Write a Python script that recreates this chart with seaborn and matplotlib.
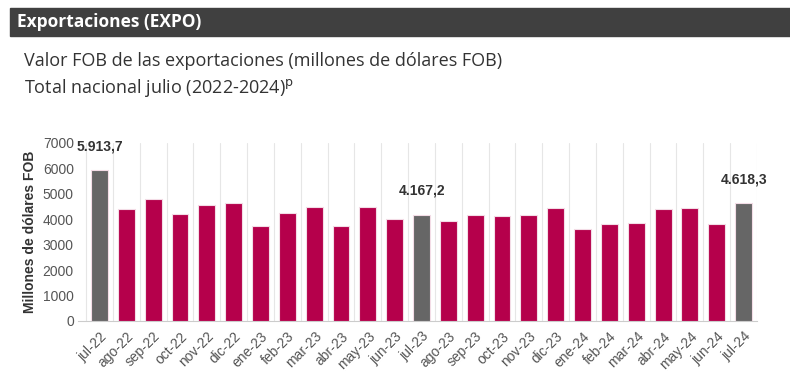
import numpy as np
import pandas as pd
import matplotlib
matplotlib.use("Agg")
import matplotlib.pyplot as plt
import seaborn as sns
from matplotlib.patches import Rectangle

months = ["jul-22", "ago-22", "sep-22", "oct-22", "nov-22", "dic-22", "ene-23",
          "feb-23", "mar-23", "abr-23", "may-23", "jun-23", "jul-23", "ago-23",
          "sep-23", "oct-23", "nov-23", "dic-23", "ene-24", "feb-24", "mar-24",
          "abr-24", "may-24", "jun-24", "jul-24"]
values = [5913.7, 4400, 4790, 4205, 4565, 4645, 3730, 4235, 4470, 3740, 4495,
          4020, 4167.2, 3940, 4155, 4140, 4180, 4445, 3610, 3795, 3860, 4405,
          4445, 3810, 4618.3]
highlight = ["jul-22", "jul-23", "jul-24"]
labels = {"jul-22": "5.913,7", "jul-23": "4.167,2", "jul-24": "4.618,3"}

df = pd.DataFrame({"mes": months, "valor": values})
df["tipo"] = np.where(df["mes"].isin(highlight), "julio", "otro")

sns.set_style("white")
plt.rcParams["font.family"] = ["Liberation Sans", "DejaVu Sans"]

W, H = 790, 372
fig = plt.figure(figsize=(W / 100, H / 100), dpi=100)

# header bar
fig.patches.append(Rectangle((10 / W, 1 - 36 / H), 780 / W, 28 / H,
                             transform=fig.transFigure, color="#404040", zorder=0))
fig.text(17 / W, 1 - 22 / H, "Exportaciones (EXPO)", color="white",
         fontsize=12.5, fontweight="bold", family=["Open Sans", "DejaVu Sans"],
         va="center", ha="left")
fig.text(24 / W, 1 - 61 / H, "Valor FOB de las exportaciones (millones de dólares FOB)",
         color="#333333", fontsize=13, family=["Open Sans", "DejaVu Sans"],
         va="center", ha="left")
fig.text(24 / W, 1 - 88 / H, "Total nacional julio (2022-2024)$^{\\mathrm{p}}$",
         color="#333333", fontsize=13, family=["Open Sans", "DejaVu Sans"],
         va="center", ha="left")

ax = fig.add_axes([78 / W, (H - 321) / H, 679 / W, 178.3 / H])
sns.barplot(data=df, x="mes", y="valor", hue="tipo",
            palette={"julio": "#666666", "otro": "#b5004b"}, saturation=1,
            width=0.63, edgecolor="#f3dce6", linewidth=0.8,
            legend=False, ax=ax, zorder=3)

ax.set_xlim(-0.8, 24.5)
ax.set_ylim(0, 7000)
ax.set_yticks(range(0, 7001, 1000))
ax.set_yticklabels([str(v) for v in range(0, 7001, 1000)], color="#555555", fontsize=10)
ax.set_xticks(range(len(months)))
ax.set_xticklabels(months, rotation=45, ha="right", rotation_mode="anchor",
                   color="#555555", fontsize=10)
ax.set_xticks(np.arange(-0.5, 25, 1), minor=True)
ax.tick_params(axis="x", which="major", length=0, pad=6)
ax.tick_params(axis="x", which="minor", length=5, color="#cccccc", width=0.8)
ax.tick_params(axis="y", length=0, pad=3)
ax.grid(False)
ax.grid(True, axis="x", which="minor", color="#e6e6e6", linewidth=0.8, zorder=0)
for s in ["top", "right", "left"]:
    ax.spines[s].set_visible(False)
ax.spines["bottom"].set_color("#cccccc")
ax.spines["bottom"].set_linewidth(0.8)

ax.set_xlabel("")
ax.set_ylabel("Millones de dólares FOB", fontsize=10, fontweight="bold",
              color="#333333", labelpad=4)

for i, m in enumerate(months):
    if m in labels:
        ax.annotate(labels[m], (i, values[i]), xytext=(0, 24),
                    textcoords="offset pixels", ha="center", va="center",
                    fontsize=10, fontweight="bold", color="#333333",
                    annotation_clip=False)

fig.savefig("out.png", dpi=100)
